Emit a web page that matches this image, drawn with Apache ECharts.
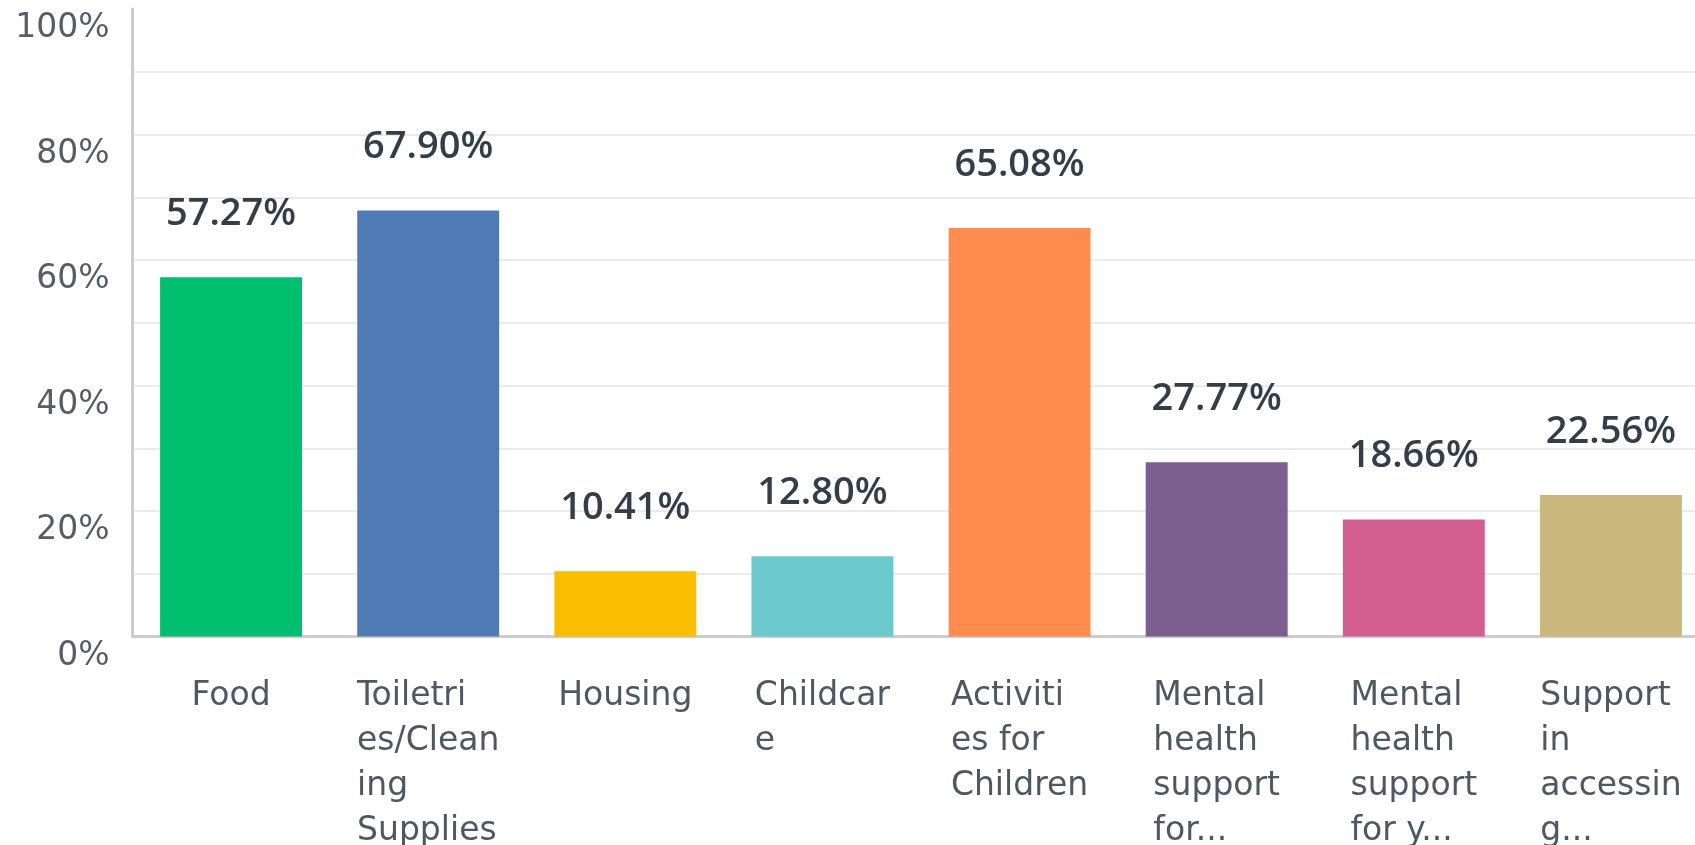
<!DOCTYPE html>
<html>
<head>
<meta charset="utf-8">
<script src="https://cdn.jsdelivr.net/npm/echarts@6/dist/echarts.min.js"></script>
<style>
html,body{margin:0;padding:0;background:#fff;}
#chart{width:1695px;height:845px;}
</style>
</head>
<body>
<div id="chart"></div>
<script>
const categories = ['Food', 'Toiletries/Cleaning Supplies', 'Housing', 'Childcare', 'Activities for Children', 'Mental health support for...', 'Mental health support for y...', 'Support in accessing...'];
const values = [57.27, 67.90, 10.41, 12.80, 65.08, 27.77, 18.66, 22.56];
const barColors = ['#00bf6f', '#507cb6', '#f9be00', '#6bc8cd', '#ff8b4f', '#7d5e90', '#d25f90', '#c9b77b'];
const yTicks = [0, 20, 40, 60, 80, 100];

function wrap(s, n) {
  const words = s.split(' ');
  const lines = [];
  let cur = '';
  for (let w of words) {
    if (cur && (cur + ' ' + w).length <= n) { cur += ' ' + w; continue; }
    if (cur) { lines.push(cur); cur = ''; }
    while (w.length > n) { lines.push(w.slice(0, n)); w = w.slice(n); }
    cur = w;
  }
  if (cur) lines.push(cur);
  return lines;
}

const chart = echarts.init(document.getElementById('chart'));
chart.setOption({
  animation: false,
  grid: { left: 132.5, top: 9, width: 1577, height: 627.5, containLabel: false, outerBoundsMode: 'none' },
  xAxis: {
    type: 'category',
    data: categories,
    axisLine: { show: true, lineStyle: { color: '#cccccc', width: 3 } },
    axisTick: { show: false },
    axisLabel: {
      interval: 0,
      margin: 37,
      fontFamily: 'DejaVu Sans',
      fontSize: 33,
      lineHeight: 45,
      color: '#4d5862',
      align: 'center',
      formatter: function (v) {
        return wrap(v, 8).map(l => '{l|' + l + '}').join('\n');
      },
      rich: { l: { align: 'left', fontFamily: 'DejaVu Sans', fontSize: 33, lineHeight: 45, color: '#4d5862' } }
    }
  },
  yAxis: {
    type: 'value',
    min: 0, max: 100, interval: 10,
    axisLine: { show: true, lineStyle: { color: '#cccccc', width: 3 } },
    axisTick: { show: false },
    splitLine: { show: true, showMinLine: false, showMaxLine: false, lineStyle: { color: '#ebebeb', width: 2 } },
    axisLabel: {
      margin: 23,
      fontFamily: 'DejaVu Sans',
      fontSize: 33,
      color: '#555e68',
      verticalAlign: 'top',
      padding: [3, 0, 0, 0],
      formatter: function (v) { return yTicks.indexOf(v) >= 0 ? v + '%' : ''; }
    }
  },
  series: [{
    type: 'bar',
    barCategoryGap: '28%',
    data: values.map((v, i) => ({ value: v, itemStyle: { color: barColors[i] } })),
    label: {
      show: true,
      position: 'top',
      distance: 44,
      fontFamily: 'Open Sans',
      fontWeight: 600,
      fontSize: 38,
      color: '#333e48',
      formatter: p => p.value.toFixed(2) + '%'
    }
  }]
});
</script>
</body>
</html>
